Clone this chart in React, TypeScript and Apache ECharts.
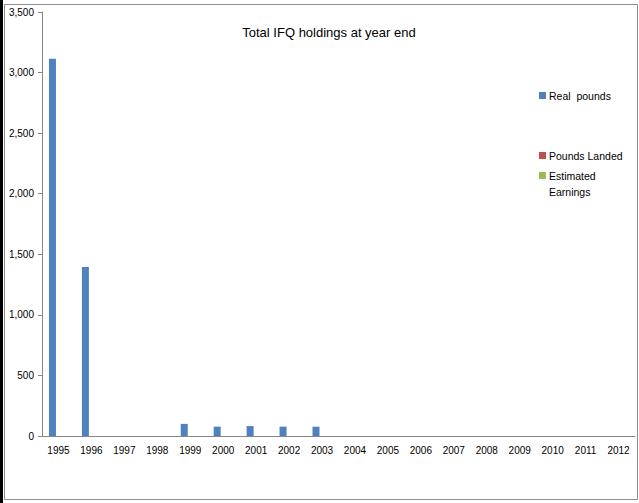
import React, { useEffect, useRef } from "react";
import * as echarts from "echarts";

const years = ["1995","1996","1997","1998","1999","2000","2001","2002","2003","2004","2005","2006","2007","2008","2009","2010","2011","2012"];
const realPounds = [3115, 1395, null, null, 100, 77, 82, 77, 77, null, null, null, null, null, null, null, null, null];
const poundsLanded = [null, null, null, null, null, null, null, null, null, null, null, null, null, null, null, null, null, null];
const estimatedEarnings = [null, null, null, null, null, null, null, null, null, null, null, null, null, null, null, null, null, null];
const seriesNames = ["Real  pounds", "Pounds Landed", "Estimated Earnings"];
const colors = ["#4F81BD", "#C0504D", "#9BBB59"];
const title = "Total IFQ holdings at year end";

const FONT = "'Liberation Sans', Arial, sans-serif";

export default function App() {
  const ref = useRef<HTMLDivElement>(null);
  useEffect(() => {
    const chart = echarts.init(ref.current!, undefined, { renderer: "svg" });
    const legendBase = {
      orient: "vertical",
      left: 539,
      padding: 0,
      itemWidth: 7,
      itemHeight: 7,
      icon: "rect",
      textStyle: { fontFamily: FONT, fontSize: 10.5, color: "#000", padding: [0, 0, 0, -2] },
      selectedMode: false,
    };
    chart.setOption({
      animation: false,
      backgroundColor: "#fff",
      title: {
        text: title,
        left: 324,
        textAlign: "center",
        top: 21,
        textStyle: { fontFamily: FONT, fontSize: 13, fontWeight: "normal", color: "#000" },
      },
      legend: [
        { ...legendBase, top: 90, data: [seriesNames[0]] },
        { ...legendBase, top: 150, data: [seriesNames[1]] },
        { ...legendBase, top: 170, data: [seriesNames[2]], formatter: () => "Estimated" },
      ],
      graphic: [
        { type: "rect", shape: { x: 0, y: 0, width: 3, height: 503 }, style: { fill: "#000" }, silent: true },
        { type: "rect", shape: { x: 4.5, y: 4.5, width: 633, height: 495 }, style: { fill: "none", stroke: "#8c8c8c", lineWidth: 1 }, silent: true },
        { type: "text", x: 549, y: 186, style: { text: "Earnings", font: `10.5px ${FONT}`, fill: "#000" }, silent: true },
      ],
      grid: { left: 42, right: 4, top: 12, bottom: 67, containLabel: false },
      xAxis: {
        type: "category",
        data: years,
        axisLine: { lineStyle: { color: "#868686" } },
        axisTick: { alignWithLabel: false, length: 4, lineStyle: { color: "#868686" } },
        axisLabel: { fontFamily: FONT, fontSize: 10, color: "#000", margin: 9, interval: 0 },
      },
      yAxis: {
        type: "value",
        min: 0,
        max: 3500,
        interval: 500,
        splitLine: { show: false },
        axisLine: { show: true, lineStyle: { color: "#868686" } },
        axisTick: { show: true, length: 4, lineStyle: { color: "#868686" } },
        axisLabel: {
          fontFamily: FONT,
          fontSize: 10,
          color: "#000",
          margin: 8,
          formatter: (v: number) => v.toLocaleString("en-US"),
        },
      },
      series: [
        { name: seriesNames[0], type: "bar", data: realPounds, barWidth: 7, barGap: "-14%", itemStyle: { color: colors[0] } },
        { name: seriesNames[1], type: "bar", data: poundsLanded, barWidth: 7, barGap: "-14%", itemStyle: { color: colors[1] } },
        { name: seriesNames[2], type: "bar", data: estimatedEarnings, barWidth: 7, barGap: "-14%", itemStyle: { color: colors[2] } },
      ],
    });
    return () => chart.dispose();
  }, []);
  return <div ref={ref} style={{ position: "fixed", left: 0, top: 0, width: 639, height: 503 }} />;
}
